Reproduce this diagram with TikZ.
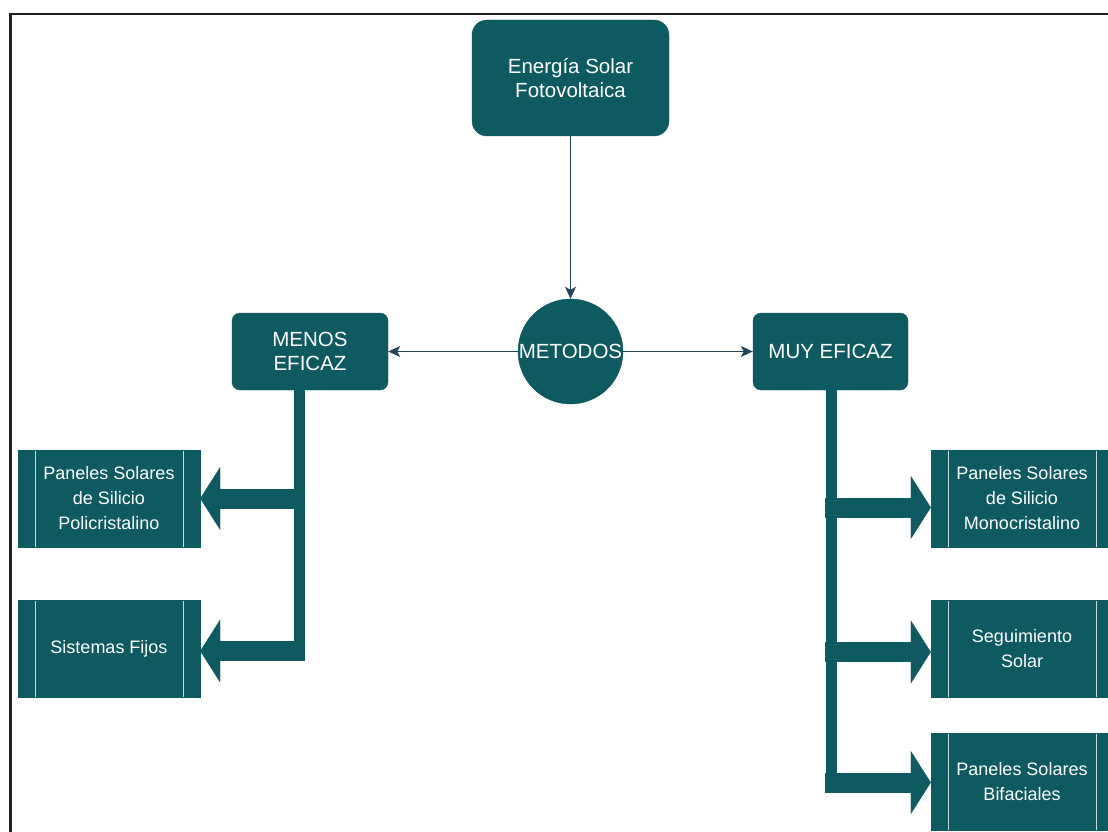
\documentclass[tikz,border=0pt]{standalone}
\usepackage{fontspec}
\setmainfont{Liberation Sans}
\usetikzlibrary{arrows.meta}
\definecolor{verdeazul}{HTML}{0E5A61}
\definecolor{flechaazul}{HTML}{23445D}
\definecolor{lineaclara}{HTML}{C9D9DB}
\def\grande{\fontsize{20.5}{24}\selectfont}
\def\chico{\fontsize{18}{25}\selectfont}
\tikzset{
	caja/.style={draw=verdeazul, fill=verdeazul, text=white, align=center, inner sep=0pt},
	hoja/.style={caja, minimum width=182pt, minimum height=97pt, font=\chico,
		path picture={
			\draw[lineaclara, line width=0.8pt] ([xshift=17pt]path picture bounding box.north west) -- ([xshift=17pt]path picture bounding box.south west);
			\draw[lineaclara, line width=0.8pt] ([xshift=-17pt]path picture bounding box.north east) -- ([xshift=-17pt]path picture bounding box.south east);
		}},
	fina/.style={draw=flechaazul, line width=1.2pt, -{Stealth[length=12pt, width=11pt, inset=3pt]}},
	tronco/.style={draw=verdeazul, line width=11pt},
	rama/.style={draw=verdeazul, line width=20pt, -{Triangle[length=20pt, width=63pt, line width=0.1pt]}}
}

\begin{document}
\begin{tikzpicture}[x=1pt, y=-1pt]
		%%%%% START %%%%%
		\useasboundingbox (0, 0) rectangle (1108, 832);
		\draw[line width=2.2pt, color=black!88] (10.5, 832) -- (10.5, 13.7) -- (1108, 13.7);
		
		\node[caja, rounded corners=15pt, minimum width=197pt, minimum height=116pt, font=\grande] (energia) at (570.5, 78) {Energía Solar\\Fotovoltaica};
		\node[caja, circle, minimum size=105pt, font=\grande] (metodos) at (570.5, 351.5) {\makebox[0pt]{METODOS}};
		\node[caja, rounded corners=8pt, minimum width=156pt, minimum height=77pt, font=\grande] (menos) at (310, 351.5) {MENOS\\EFICAZ};
		\node[caja, rounded corners=8pt, minimum width=155pt, minimum height=77pt, font=\grande] (muy) at (830.5, 351.5) {MUY EFICAZ};
		
		\node[hoja] (poli) at (109, 498.5) {Paneles Solares\\de Silicio\\Policristalino};
		\node[hoja] (fijos) at (109, 648.5) {Sistemas Fijos};
		\node[hoja] (mono) at (1022, 498.5) {Paneles Solares\\de Silicio\\Monocristalino};
		\node[hoja] (seguim) at (1022, 648.5) {Seguimiento\\Solar};
		\node[hoja] (bifac) at (1022, 781.5) {Paneles Solares\\Bifaciales};
		
		\draw[fina] (energia) -- (metodos);
		\draw[fina] (metodos) -- (menos);
		\draw[fina] (metodos) -- (muy);
		
		% trunks under the two boxes
		\coordinate (tl) at (299.5, 389);
		\coordinate (tr) at (831, 389);
		\draw[tronco] (tl) -- (tl |- 0, 660);
		\draw[tronco] (tr) -- (tr |- 0, 792);
		
		\draw[rama] ([xshift=5.5pt]tl |- poli.east) -- (poli.east);
		\draw[rama] ([xshift=5.5pt, yshift=-2.5pt]tl |- fijos.east) -- ([yshift=-2.5pt]fijos.east);
		\draw[rama] ([xshift=-6pt, yshift=-9pt]tr |- mono.west) -- ([yshift=-9pt]mono.west);
		\draw[rama] ([xshift=-6pt, yshift=-3.5pt]tr |- seguim.west) -- ([yshift=-3.5pt]seguim.west);
		\draw[rama] ([xshift=-6pt, yshift=-1pt]tr |- bifac.west) -- ([yshift=-1pt]bifac.west);
		
		%%%%% END %%%%%
\end{tikzpicture}
\end{document}
